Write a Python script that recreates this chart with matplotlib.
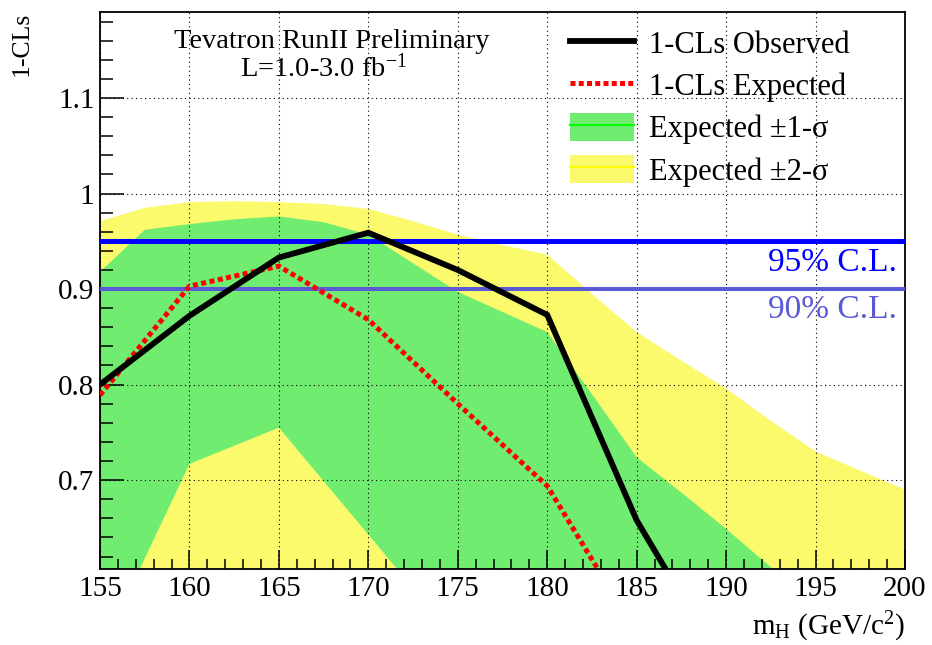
import matplotlib
matplotlib.use("Agg")
import matplotlib.pyplot as plt
from matplotlib.lines import Line2D
from matplotlib.patches import Patch
from matplotlib.ticker import MultipleLocator, FuncFormatter

plt.rcParams['font.family'] = ['Liberation Serif', 'DejaVu Serif']
plt.rcParams['mathtext.fontset'] = 'custom'
plt.rcParams['mathtext.rm'] = 'Liberation Serif'
plt.rcParams['mathtext.it'] = 'Liberation Serif:italic'

# ---- data ----
mass = [155, 160, 165, 170, 175, 180, 185, 190, 195, 200]
observed = [0.800, 0.872, 0.933, 0.959, 0.920, 0.873, 0.658, 0.500, 0.420, 0.380]
expected = [0.789, 0.903, 0.924, 0.868, 0.780, 0.694, 0.540, 0.450, 0.400, 0.360]

band_mass = [155, 157.5, 160, 162.5, 165, 167.5, 170, 172.5, 175, 177.5,
             180, 182.5, 185, 187.5, 190, 192.5, 195, 197.5, 200]
plus2 = [0.971, 0.985, 0.991, 0.992, 0.991, 0.989, 0.984, 0.971, 0.957, 0.946,
         0.936, 0.895, 0.855, 0.825, 0.796, 0.762, 0.730, 0.710, 0.690]
plus1 = [0.918, 0.962, 0.968, 0.973, 0.976, 0.970, 0.957, 0.927, 0.897, 0.876,
         0.855, 0.790, 0.724, 0.687, 0.649, 0.609, 0.570, 0.530, 0.495]
minus1 = [0.518, 0.618, 0.717, 0.736, 0.755, 0.699, 0.643, 0.587, 0.530, 0.490,
          0.450, 0.420, 0.390, 0.360, 0.330, 0.310, 0.290, 0.270, 0.250]
minus2 = [0.350, 0.400, 0.450, 0.480, 0.500, 0.470, 0.450, 0.400, 0.350, 0.320,
          0.300, 0.270, 0.250, 0.230, 0.200, 0.200, 0.200, 0.200, 0.200]

cl95 = 0.95
cl90 = 0.90

legend_labels = ['1-CLs Observed', '1-CLs Expected', 'Expected \u00b11-\u03c3', 'Expected \u00b12-\u03c3']

# ---- style ----
GREEN = '#70ec70'
YELLOW = '#fafa6c'
BLUE95 = '#0000ff'
BLUE90 = '#5a5ad6'

fig = plt.figure(figsize=(9.32, 6.45), dpi=100)
ax = fig.add_axes([100/932, 76/645, 805/932, 557/645])

ax.fill_between(band_mass, minus2, plus2, color=YELLOW, lw=0, zorder=1)
ax.fill_between(band_mass, minus1, plus1, color=GREEN, lw=0, zorder=1.2)

ax.axhline(cl95, color=BLUE95, lw=3.6, zorder=2.7)
ax.axhline(cl90, color=BLUE90, lw=2.9, zorder=2.7)

ax.plot(mass, expected, color='red', lw=3.6, ls=(0, (1, 0.7)), zorder=3.5)
ax.plot(mass, observed, color='black', lw=4.2, zorder=4, solid_joinstyle='miter')

ax.set_xlim(155, 200)
ax.set_ylim(0.607, 1.19)
ax.set_axisbelow(False)

ax.xaxis.set_major_locator(MultipleLocator(5))
ax.xaxis.set_minor_locator(MultipleLocator(1))
ax.yaxis.set_major_locator(MultipleLocator(0.1))
ax.yaxis.set_minor_locator(MultipleLocator(0.02))
ax.yaxis.set_major_formatter(FuncFormatter(lambda v, p: f"{v:g}" if abs(v - round(v, 1)) < 1e-6 else ""))

ax.tick_params(which='both', direction='in', top=False, right=False, width=1.1, color='black')
ax.tick_params(which='major', axis='y', length=17, labelsize=21, pad=4)
ax.tick_params(which='minor', axis='y', length=9)
ax.tick_params(which='major', axis='x', length=14, labelsize=21, pad=5)
ax.tick_params(which='minor', axis='x', length=7)

ax.grid(True, which='major', color='black', lw=0.8, ls=(0, (1, 3)))
for s in ax.spines.values():
    s.set_linewidth(1.3)

ax.set_xlabel(r'm$_{\mathrm{H}}$ (GeV/c$^{2}$)', fontsize=21, loc='right', labelpad=6)
ax.set_ylabel('1-CLs', fontsize=18.5, loc='top', labelpad=18)

ax.text(167.96, 1.152, 'Tevatron RunII Preliminary', fontsize=20.5, ha='center', va='baseline')
ax.text(167.5, 1.122, r'L=1.0-3.0 fb$^{\mathregular{-1}}$', fontsize=20.5, ha='center', va='baseline')

ax.text(199.55, 0.919, '95% C.L.', fontsize=24, color=BLUE95, ha='right', va='baseline')
ax.text(199.55, 0.870, '90% C.L.', fontsize=24, color=BLUE90, ha='right', va='baseline')

handles = [
    Line2D([], [], color='black', lw=4.2),
    Line2D([], [], color='red', lw=3.6, ls=(0, (1, 0.65))),
    (Patch(facecolor=GREEN, edgecolor='none'), Line2D([], [], color='#00ff00', lw=1.5)),
    (Patch(facecolor=YELLOW, edgecolor='none'), Line2D([], [], color='#ffff00', lw=1.5)),
]
leg = ax.legend(handles, legend_labels, loc='upper left', bbox_to_anchor=(570/932, 1 - 29/645),
                bbox_transform=fig.transFigure, frameon=False, fontsize=22,
                handlelength=2.1, handleheight=1.0, handletextpad=0.5,
                labelspacing=0.36, borderpad=0, borderaxespad=0)

fig.savefig('out.png', dpi=100)
